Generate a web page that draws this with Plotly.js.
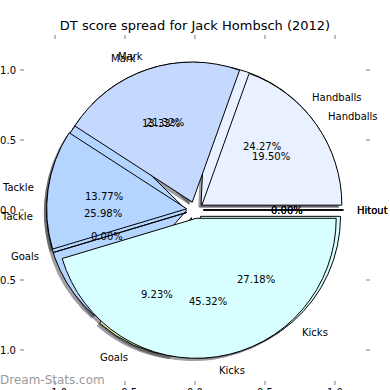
<!DOCTYPE html>
<html><head><meta charset="utf-8">
<script src="https://cdn.plot.ly/plotly-3.0.1.min.js"></script>
<style>html,body{margin:0;padding:0;background:#fff}#chart{width:390px;height:390px}</style>
</head><body><div id="chart"></div>
<script>
// ---- data ----
const categories = ['Handballs', 'Mark', 'Tackle', 'Goals', 'Kicks', 'Hitout'];
const pctA = [24.27, 13.33, 25.98, 9.23, 27.18, 0.00];
const pctB = [19.50, 21.32, 13.77, 0.00, 45.32, 0.00];
const axisTicks = [-1, -0.5, 0, 0.5, 1];
const titleText = 'DT score spread for Jack Hombsch (2012)';
const watermark = 'Dream-Stats.com';

// ---- style ----
const sliceColors = ['#e9f0ff', '#c5d9ff', '#b4d5ff', '#e2eca6', '#d8ffff', '#f4e8ff'];
const PULL = 0.06, LABEL_DIST = 1.1, PCT_DIST = 0.6, SHADOW = 0.02;
const W = 390, H = 390;
const xDom = [20 / W, 370 / W];
const yDom = [5 / H, 355 / H];
const AX_RANGE = [-1.25, 1.25];
const FONT = 'DejaVu Sans, Verdana, sans-serif';

const ux = (xDom[1] - xDom[0]) / (AX_RANGE[1] - AX_RANGE[0]);
const uy = (yDom[1] - yDom[0]) / (AX_RANGE[1] - AX_RANGE[0]);
const cx = (xDom[0] + xDom[1]) / 2, cy = (yDom[0] + yDom[1]) / 2;

function pieDomain(dx, dy) {
  return {
    x: [cx + dx * ux - (1 + PULL) * ux, cx + dx * ux + (1 + PULL) * ux],
    y: [cy + dy * uy - (1 + PULL) * uy, cy + dy * uy + (1 + PULL) * uy]
  };
}

function pieTrace(vals, colors, dom, line) {
  const total = vals.reduce((a, b) => a + b, 0);
  // first slice starts at 3 o'clock and slices run counterclockwise
  const rot = 90 - 360 * vals[0] / total;
  return {
    type: 'pie', values: vals, labels: categories, sort: false,
    direction: 'counterclockwise', rotation: rot,
    pull: vals.map(() => PULL), domain: dom,
    marker: {colors: colors, line: line},
    textinfo: 'none', hoverinfo: 'skip', showlegend: false
  };
}

const shadowCol = categories.map(() => 'rgba(40,40,50,0.45)');
const traces = [
  pieTrace(pctA, shadowCol, pieDomain(-SHADOW, -SHADOW), {width: 0, color: 'rgba(0,0,0,0)'}),
  pieTrace(pctB, shadowCol, pieDomain(-SHADOW, -SHADOW), {width: 0, color: 'rgba(0,0,0,0)'}),
  pieTrace(pctA, sliceColors, pieDomain(0, 0), {width: 1, color: '#000'}),
  pieTrace(pctB, sliceColors, pieDomain(0, 0), {width: 1, color: '#000'}),
  // invisible cartesian trace so the axes are drawn
  {type: 'scatter', x: [0], y: [0], mode: 'markers', marker: {opacity: 0}, hoverinfo: 'skip', showlegend: false}
];

// ---- labels computed from data ----
const annotations = [];
function addPieTexts(vals) {
  const total = vals.reduce((a, b) => a + b, 0);
  let cum = 0;
  vals.forEach((v, i) => {
    const th = 2 * Math.PI * (cum + v / 2) / total;
    cum += v;
    const c = Math.cos(th), s = Math.sin(th);
    const lx = (PULL + LABEL_DIST) * c, ly = (PULL + LABEL_DIST) * s;
    annotations.push({x: lx, y: ly, xref: 'x', yref: 'y', text: categories[i], showarrow: false,
      xanchor: lx > 0 ? 'left' : 'right', yanchor: 'middle', borderpad: 0, borderwidth: 0,
      font: {family: FONT, size: 10, color: '#000'}});
    const px = (PULL + PCT_DIST) * c, py = (PULL + PCT_DIST) * s;
    annotations.push({x: px, y: py, xref: 'x', yref: 'y', text: v.toFixed(2) + '%', showarrow: false,
      xanchor: 'center', yanchor: 'middle', borderpad: 0, borderwidth: 0,
      font: {family: FONT, size: 10, color: '#000'}});
  });
}
addPieTexts(pctA);
addPieTexts(pctB);
annotations.push({x: 0, y: 10 / H, xref: 'paper', yref: 'paper', text: watermark, showarrow: false,
  xanchor: 'left', yanchor: 'middle', borderpad: 0, borderwidth: 0,
  font: {family: FONT, size: 12, color: '#9a9a9a'}});

const axisCommon = {
  range: AX_RANGE, tickvals: axisTicks, tickformat: '.1f', ticks: 'inside', ticklen: 4, tickwidth: 2,
  tickcolor: '#bdbdbd', mirror: 'ticks', showline: false, showgrid: false, zeroline: false,
  fixedrange: true, tickfont: {family: FONT, size: 10, color: '#000'}
};

const layout = {
  width: W, height: H, margin: {l: 0, r: 0, t: 0, b: 0},
  paper_bgcolor: '#fff', plot_bgcolor: 'rgba(0,0,0,0)',
  title: {text: titleText, font: {family: FONT, size: 13, color: '#000'},
    x: 0.5, xanchor: 'center', y: 1 - 25 / H, yanchor: 'middle', yref: 'container'},
  xaxis: Object.assign({domain: xDom}, axisCommon),
  yaxis: Object.assign({domain: yDom, ticklabelstandoff: 3}, axisCommon),
  annotations: annotations, showlegend: false
};

Plotly.newPlot('chart', traces, layout, {staticPlot: true, displayModeBar: false});
</script></body></html>
